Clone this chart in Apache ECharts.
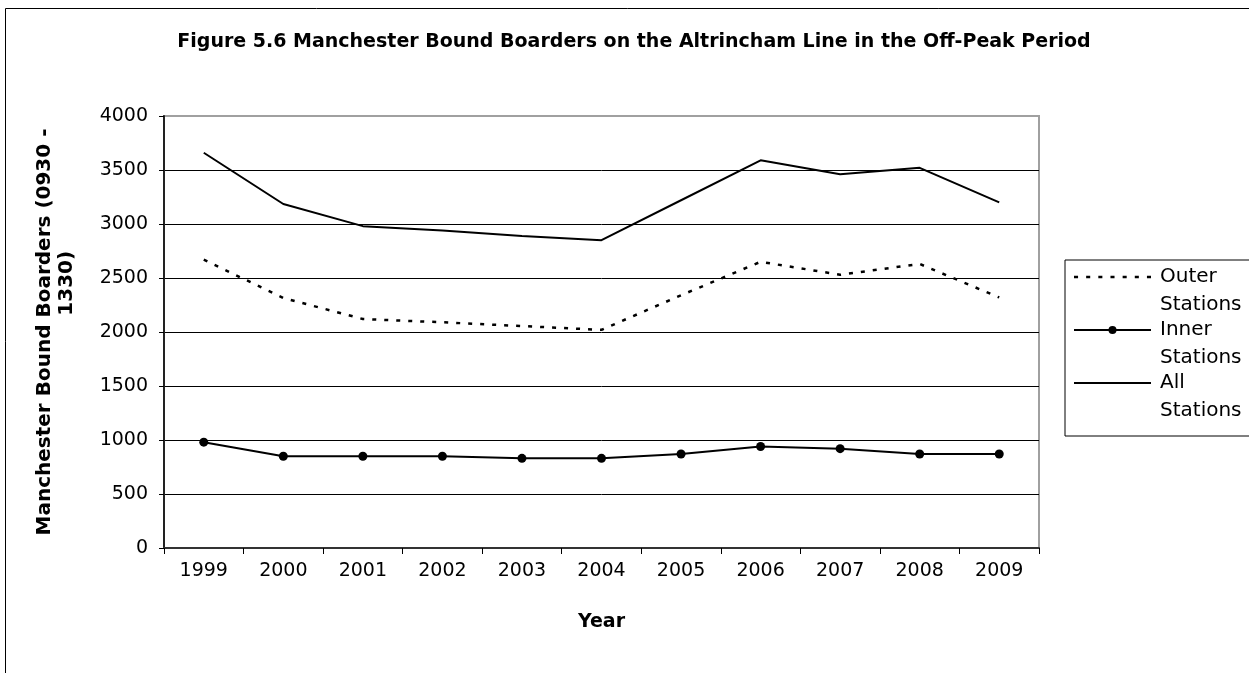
<!DOCTYPE html>
<html>
<head>
<meta charset="utf-8">
<script src="https://cdn.jsdelivr.net/npm/echarts@6/dist/echarts.min.js"></script>
<style>
html,body{margin:0;padding:0;background:#fff;}
#chart{width:1249px;height:673px;}
</style>
</head>
<body>
<div id="chart"></div>
<script>
// ---- data ----
const categories = ['1999','2000','2001','2002','2003','2004','2005','2006','2007','2008','2009'];
const outerStations = [2670, 2315, 2120, 2090, 2055, 2020, 2340, 2650, 2530, 2630, 2320];
const innerStations = [980, 850, 850, 850, 830, 830, 870, 940, 920, 870, 870];
const allStations   = [3660, 3185, 2980, 2940, 2890, 2850, 3220, 3590, 3460, 3520, 3200];
const seriesNames = ['Outer Stations', 'Inner Stations', 'All Stations'];
const yMin = 0, yMax = 4000, yStep = 500;

const FONT = 'DejaVu Sans';
const splitColors = [];
for (let v = yMin; v <= yMax; v += yStep) splitColors.push(v === yMax ? '#a0a0a0' : '#000');

// legend icon shapes (line samples)
let dottedIcon = 'path://';
for (let i = 0; i < 7; i++) dottedIcon += 'M' + (i * 12) + ',0h4v2.5h-4z';
const solidIcon = 'path://M0,0H77V2H0Z';

const chart = echarts.init(document.getElementById('chart'), null, {renderer: 'canvas'});
const option = {
  animation: false,
  backgroundColor: '#fff',
  textStyle: {fontFamily: FONT, color: '#000'},
  title: {
    text: 'Figure 5.6 Manchester Bound Boarders on the Altrincham Line in the Off-Peak Period',
    left: 634, top: 31, padding: 0, textAlign: 'center',
    textStyle: {fontFamily: FONT, fontSize: 19, fontWeight: 'bold', color: '#000', lineHeight: 22}
  },
  graphic: [{
    type: 'rect', silent: true, z: 0,
    shape: {x: 5.5, y: 8.5, width: 1400, height: 800},
    style: {fill: 'none', stroke: '#000', lineWidth: 1}
  }],
  grid: {
    left: 164, right: 210, top: 116, bottom: 125,
    show: true, borderColor: '#a0a0a0', borderWidth: 2, backgroundColor: 'transparent'
  },
  legend: {
    orient: 'vertical', left: 1065, top: 260,
    padding: [-25, 60, 11, 8], itemGap: -31,
    itemWidth: 77, itemHeight: 10,
    borderColor: '#000', borderWidth: 1, backgroundColor: '#fff',
    selectedMode: false,
    data: [
      {name: seriesNames[0], icon: dottedIcon, itemStyle: {color: '#000', borderWidth: 0}},
      {name: seriesNames[1]},
      {name: seriesNames[2], icon: solidIcon, itemStyle: {color: '#000', borderWidth: 0}}
    ],
    formatter: function (n) { return '\n' + n.replace(' ', '\n'); },
    textStyle: {fontFamily: FONT, fontSize: 20, lineHeight: 28, color: '#000', padding: [0, 0, 0, 4]}
  },
  xAxis: {
    type: 'category', data: categories, boundaryGap: true,
    name: 'Year', nameLocation: 'middle', nameGap: 64,
    nameTextStyle: {fontFamily: FONT, fontSize: 19, fontWeight: 'bold', color: '#000', lineHeight: 20},
    axisLine: {show: true, lineStyle: {color: '#333', width: 2}},
    axisTick: {show: true, length: 6, lineStyle: {color: '#000', width: 1}},
    axisLabel: {margin: 13, fontFamily: FONT, fontSize: 19, color: '#000', lineHeight: 20},
    splitLine: {show: false}
  },
  yAxis: {
    type: 'value', min: yMin, max: yMax, interval: yStep,
    name: 'Manchester Bound Boarders (0930 -\n' + ' '.repeat(14) + '1330)',
    nameLocation: 'middle', nameRotate: 90, nameGap: 86,
    nameTextStyle: {fontFamily: FONT, fontSize: 20, fontWeight: 'bold', color: '#000', lineHeight: 22},
    axisLine: {show: true, lineStyle: {color: '#222', width: 2}},
    axisTick: {show: true, length: 5, lineStyle: {color: '#000', width: 1}},
    axisLabel: {margin: 16, fontFamily: FONT, fontSize: 19, color: '#000',
      formatter: function (v) { return String(v); }},
    splitLine: {show: true, lineStyle: {color: splitColors, width: 1}}
  },
  series: [
    {
      name: seriesNames[0], type: 'line', data: outerStations,
      symbol: 'none', smooth: false,
      lineStyle: {color: '#000', width: 2.5, type: [4, 8]},
      itemStyle: {color: '#000'}
    },
    {
      name: seriesNames[1], type: 'line', data: innerStations,
      symbol: 'circle', symbolSize: 9, showSymbol: true,
      lineStyle: {color: '#000', width: 2},
      itemStyle: {color: '#000', borderWidth: 0}
    },
    {
      name: seriesNames[2], type: 'line', data: allStations,
      symbol: 'none',
      lineStyle: {color: '#000', width: 2},
      itemStyle: {color: '#000'}
    }
  ]
};
chart.setOption(option);
</script>
</body>
</html>
